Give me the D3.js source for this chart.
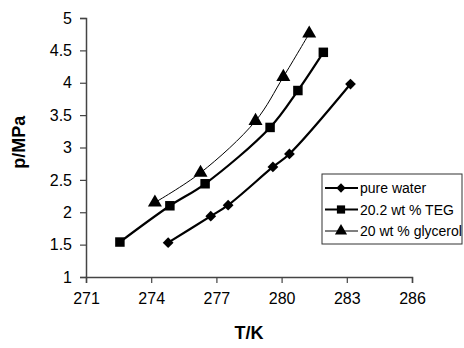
<!DOCTYPE html>
<html>
<head>
<meta charset="utf-8">
<script src="https://cdn.jsdelivr.net/npm/d3@7"></script>
<style>
  body { margin: 0; background: #fff; }
  svg { display: block; font-family: "Liberation Sans", Arial, sans-serif; }
</style>
</head>
<body>
<div id="chart"></div>
<script>
/* p-T hydrate equilibrium curves, three solutions */

const waterT = [274.78, 276.74, 277.54, 279.6, 280.36, 283.17];
const waterP = [1.53, 1.94, 2.11, 2.70, 2.90, 3.98];
const tegT = [272.56, 274.86, 276.48, 279.47, 280.75, 281.92];
const tegP = [1.54, 2.10, 2.44, 3.31, 3.88, 4.47];
const glyT = [274.17, 276.27, 278.8, 280.08, 281.27];
const glyP = [2.15, 2.61, 3.41, 4.09, 4.76];

const xTicks = [271, 274, 277, 280, 283, 286];
const yTicks = [1, 1.5, 2, 2.5, 3, 3.5, 4, 4.5, 5];

// diamonds are squares turned 45 degrees
const series = [
  { label: "pure water", T: waterT, p: waterP, shape: d3.symbolSquare, rot: 45, size: 58, width: 2.2 },
  { label: "20.2 wt % TEG", T: tegT, p: tegP, shape: d3.symbolSquare, rot: 0, size: 90, width: 2.2 },
  { label: "20 wt % glycerol", T: glyT, p: glyP, shape: d3.symbolTriangle, rot: 0, size: 85, width: 1 },
];

const W = 464, H = 348;
const margin = { top: 18, right: 52, bottom: 71, left: 86 };

const svg = d3.select("#chart").append("svg")
  .attr("width", W).attr("height", H);

const x = d3.scaleLinear().domain([271, 286]).range([margin.left, W - margin.right]);
const y = d3.scaleLinear().domain([1, 5]).range([H - margin.bottom, margin.top]);

// axes
const xAxis = svg.append("g")
  .attr("transform", `translate(0,${H - margin.bottom})`)
  .call(d3.axisBottom(x).tickValues(xTicks).tickFormat(d3.format("d")).tickSize(6).tickPadding(10));
const yAxis = svg.append("g")
  .attr("transform", `translate(${margin.left},0)`)
  .call(d3.axisLeft(y).tickValues(yTicks).tickFormat(d => d).tickSize(6).tickPadding(8));

[xAxis, yAxis].forEach(g => {
  g.select(".domain").attr("stroke", "#444").attr("stroke-width", 1.5);
  g.selectAll(".tick line").attr("stroke", "#444").attr("stroke-width", 1.2);
  g.selectAll("text").attr("font-size", 16).attr("fill", "#000")
    .attr("font-family", "Liberation Sans, Arial, sans-serif");
});

// axis titles
svg.append("text")
  .attr("x", x(278.5)).attr("y", 339).attr("text-anchor", "middle")
  .attr("font-size", 18).attr("font-weight", 700).text("T/K");
svg.append("text")
  .attr("transform", `translate(25,${y(3.08)}) rotate(-90)`)
  .attr("text-anchor", "middle")
  .attr("font-size", 18).attr("font-weight", 700).text("p/MPa");

// curves
const line = d3.line().curve(d3.curveCatmullRom.alpha(0.5));
series.forEach(s => {
  const pts = s.T.map((t, i) => [x(t), y(s.p[i])]);
  svg.append("path").datum(pts)
    .attr("fill", "none").attr("stroke", "#000").attr("stroke-width", s.width)
    .attr("d", line);
  svg.selectAll(null).data(pts).enter().append("path")
    .attr("transform", d => `translate(${d[0]},${d[1]}) rotate(${s.rot})`)
    .attr("d", d3.symbol().type(s.shape).size(s.size))
    .attr("fill", "#000");
});

// legend
const lg = svg.append("g").attr("transform", "translate(322,174)");
lg.append("rect").attr("width", 140).attr("height", 70)
  .attr("fill", "#fff").attr("stroke", "#333").attr("stroke-width", 1);
series.forEach((s, i) => {
  const cy = 14 + i * 21.5;
  lg.append("line").attr("x1", 3).attr("x2", 36).attr("y1", cy).attr("y2", cy)
    .attr("stroke", "#000").attr("stroke-width", s.width);
  lg.append("path").attr("transform", `translate(19,${cy}) rotate(${s.rot})`)
    .attr("d", d3.symbol().type(s.shape).size(s.size * 0.75)).attr("fill", "#000");
  lg.append("text").attr("x", 38).attr("y", cy + 5)
    .attr("font-size", 14).text(s.label);
});
</script>
</body>
</html>
